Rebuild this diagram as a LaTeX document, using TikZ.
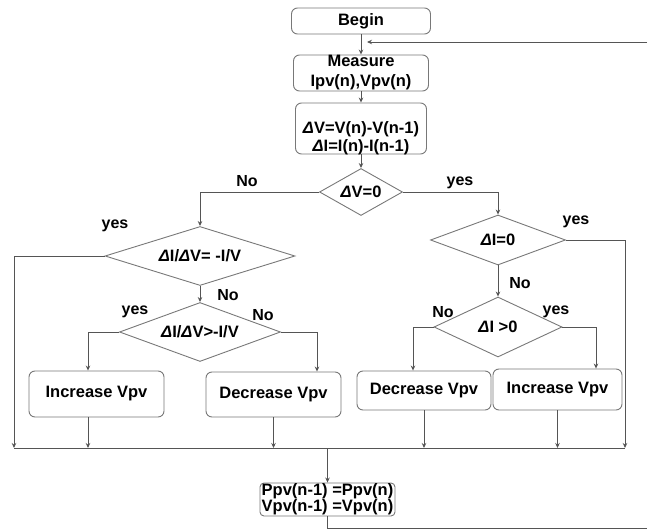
\documentclass[tikz,border=0pt]{standalone}
\usepackage{fontspec}
\setmainfont{Liberation Sans}
\usepackage{tikz}
\usetikzlibrary{arrows.meta, shapes.geometric}
\definecolor{linegray}{RGB}{85,85,85}
\definecolor{edgegray}{RGB}{120,120,120}
\newcommand{\dl}{{\itshape Δ}}

\begin{document}
\begin{tikzpicture}[
    x=1pt, y=-1pt,
    every node/.style={font=\fontsize{16.5}{18}\selectfont\bfseries},
    procbox/.style={
        draw=edgegray,
        fill=white,
        rounded corners=6pt,
        line width=0.9pt,
        inner sep=0pt,
        align=center
      },
    decision/.style={
        diamond,
        draw=edgegray,
        line width=0.9pt,
        aspect=2,
        inner sep=0pt
      },
    arr/.style={-{Stealth[length=5pt, width=4.5pt]}, linegray, line width=0.9pt},
    lnk/.style={linegray, line width=0.9pt},
    ans/.style={font=\fontsize{16}{18}\selectfont\bfseries}
  ]
  \useasboundingbox (0,0) rectangle (648,529);

  % main column
  \node[procbox, minimum width=139pt, minimum height=26pt] (begin) at (361,21) {Begin};
  \node[procbox, minimum width=135pt, minimum height=36pt,
        font=\fontsize{16.5}{20}\selectfont\bfseries] (meas) at (361,73) {Measure\\Ipv(n),Vpv(n)};
  \node[procbox, minimum width=131pt, minimum height=51pt] (diff) at (361,128.5) {};
  \node[align=center] (diffText) at (361,138) {\dl V=V(n)-V(n-1)\\\dl I=I(n)-I(n-1)};
  \node[decision, minimum width=83pt, minimum height=47pt] (dv) at (361,192) {\dl V=0};

  % left branch
  \node[decision, minimum width=190pt, minimum height=59pt] (didv) at (200,256) {\dl I/\dl V= -I/V};
  \node[decision, minimum width=161pt, minimum height=59pt] (dgt) at (200,332) {\dl I/\dl V>-I/V};
  \node[procbox, minimum width=135pt, minimum height=46pt] (incA) at (96.5,394) {Increase Vpv};
  \node[procbox, minimum width=135pt, minimum height=45pt] (decA) at (273.5,394.5) {Decrease Vpv};

  % right branch
  \node[decision, minimum width=135pt, minimum height=50pt] (di0) at (498,240) {\dl I=0};
  \node[decision, minimum width=128pt, minimum height=60pt] (dipos) at (498,327) {\dl I >0};
  \node[procbox, minimum width=134pt, minimum height=39pt] (decB) at (424,390.5) {Decrease Vpv};
  \node[procbox, minimum width=129pt, minimum height=41pt] (incB) at (557.5,389.5) {Increase Vpv};

  % update
  \node[procbox, minimum width=135pt, minimum height=33pt, rounded corners=4pt,
        font=\fontsize{16.5}{16}\selectfont\bfseries] (upd) at (327.5,499.5) {Ppv(n-1) =Ppv(n)\\Vpv(n-1) =Vpv(n)};

  % answer labels
  \node[ans] (noDv) at (247,181) {No};
  \node[ans] (yesDv) at (460,183) {yes};
  \node[ans] (yesDidv) at (115,226) {yes};
  \node[ans] (noDidv) at (228,295) {No};
  \node[ans] (yesDgt) at (135,312) {yes};
  \node[ans] (noDgt) at (263,315) {No};
  \node[ans] (yesDi0) at (576,222) {yes};
  \node[ans] (noDi0) at (520,283) {No};
  \node[ans] (noDipos) at (443,312) {No};
  \node[ans] (yesDipos) at (556,312) {yes};

  % columns and bus
  \coordinate (inA) at (88,0);
  \coordinate (inB) at (317,0);
  \coordinate (inC) at (413,0);
  \coordinate (inD) at (596,0);
  \coordinate (busL) at (14,448);
  \coordinate (busR) at (625,448);
  \coordinate (fbIn) at (647,42);
  \coordinate (fbTip) at (367,42);
  \coordinate (fbOut) at (647,528);

  \draw[arr] (begin) -- (meas);
  \draw[arr] (meas) -- (diff);
  \draw[arr] (diff) -- (dv);
  \draw[arr] (dv.west) -| (didv.north);
  \draw[arr] (dv.east) -| (di0.north);
  \draw[arr] (didv.south) -- (dgt.north);
  \draw[arr] (di0.south) -- (dipos.north);
  \draw[arr] (dgt.west) -| (incA.north -| inA);
  \draw[arr] (dgt.east) -| (decA.north -| inB);
  \draw[arr] (dipos.west) -| (decB.north -| inC);
  \draw[arr] (dipos.east) -| (incB.north -| inD);

  \draw[lnk] (busL) -- (busR);
  \draw[arr] (didv.west) -| (busL);
  \draw[arr] (di0.east) -| (busR);
  \draw[arr] (incA.south -| inA) -- (inA |- busL);
  \draw[arr] (decA.south) -- (decA.south |- busL);
  \draw[arr] (decB.south) -- (decB.south |- busL);
  \draw[arr] (incB.south) -- (incB.south |- busL);
  \draw[arr] (upd.north |- busL) -- (upd.north);

  % feedback
  \draw[arr] (fbIn) -- (fbTip);
  \draw[lnk] (upd.south) |- (fbOut);
\end{tikzpicture}
\end{document}
